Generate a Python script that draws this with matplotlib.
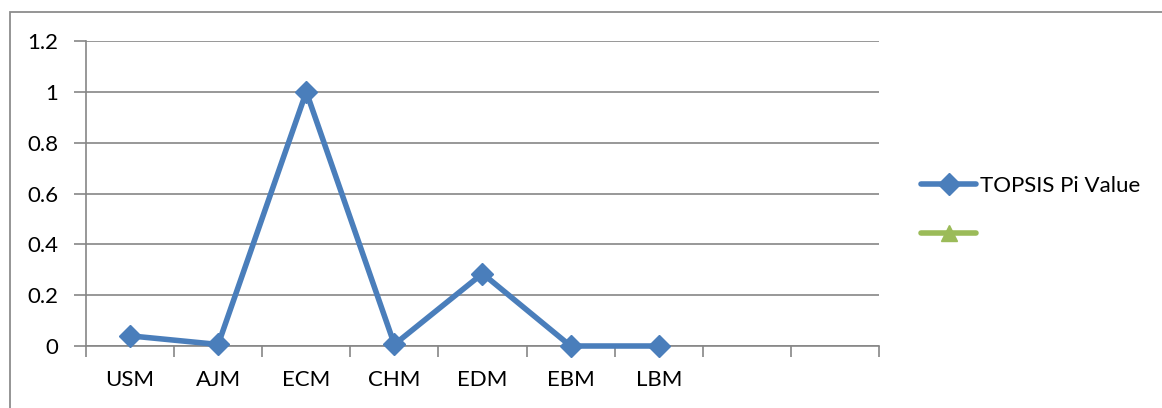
import matplotlib
matplotlib.use("Agg")
import matplotlib.pyplot as plt
from matplotlib.patches import Rectangle
import numpy as np

categories = ["USM", "AJM", "ECM", "CHM", "EDM", "EBM", "LBM", "", ""]
topsis_pi = [0.04, 0.006, 1.0, 0.006, 0.285, 0.0, 0.0]
second_series = []
series_name = "TOPSIS Pi Value"
y_ticks = [0, 0.2, 0.4, 0.6, 0.8, 1, 1.2]
y_labels = ["0", "0.2", "0.4", "0.6", "0.8", "1", "1.2"]

plt.rcParams['font.family'] = ['Lato', 'DejaVu Sans']
W, H = 1162, 408
fig = plt.figure(figsize=(W / 100, H / 100), dpi=100)
fig.patches.append(Rectangle((9.5 / W, -0.1), 1.2, (H - 11.5) / H + 0.1,
                             transform=fig.transFigure, fill=False,
                             edgecolor="#8c8c8c", linewidth=1.3))

ax = fig.add_axes([86 / W, (H - 346) / H, (879 - 86) / W, (346 - 41) / H])
blue = "#4A7EBB"
green = "#9BBB59"
grid = "#868686"

x = list(range(len(topsis_pi)))
ax.plot(x, topsis_pi, color=blue, linewidth=4.0, marker="D", markersize=11,
        label=series_name, solid_capstyle="round", zorder=3, clip_on=False)
ax.plot(range(len(second_series)), second_series, color=green, linewidth=4.0,
        marker="^", markersize=12, label=" ", solid_capstyle="round")

ax.set_xlim(-0.5, len(categories) - 0.5)
ax.set_ylim(0, 1.2)
ax.set_yticks(y_ticks)
ax.set_yticklabels(y_labels)
ax.yaxis.grid(True, color=grid, linewidth=1.2)
ax.set_axisbelow(True)

ax.set_xticks(np.arange(-0.5, len(categories), 1.0))
ax.set_xticklabels([])
ax.set_xticks(range(len(categories)), minor=True)
ax.set_xticklabels(categories, minor=True)
ax.tick_params(axis="x", which="major", length=8, width=1.2, color=grid, direction="out")
ax.tick_params(axis="x", which="minor", length=0, pad=17, labelsize=16)
ax.tick_params(axis="y", length=9, width=1.2, color=grid, pad=11, labelsize=16)

for s in ["top", "right"]:
    ax.spines[s].set_visible(False)
for s in ["left", "bottom"]:
    ax.spines[s].set_color(grid)
    ax.spines[s].set_linewidth(1.2)
ax.spines["left"].set_zorder(1)

handles, labels = ax.get_legend_handles_labels()
leg = fig.legend(handles, labels, loc="center left",
                 bbox_to_anchor=(912 / W, 1 - 210 / H), frameon=False,
                 fontsize=16, handlelength=2.5, handletextpad=0.15,
                 labelspacing=1.3, borderaxespad=0)

fig.savefig("out.png", dpi=100)
